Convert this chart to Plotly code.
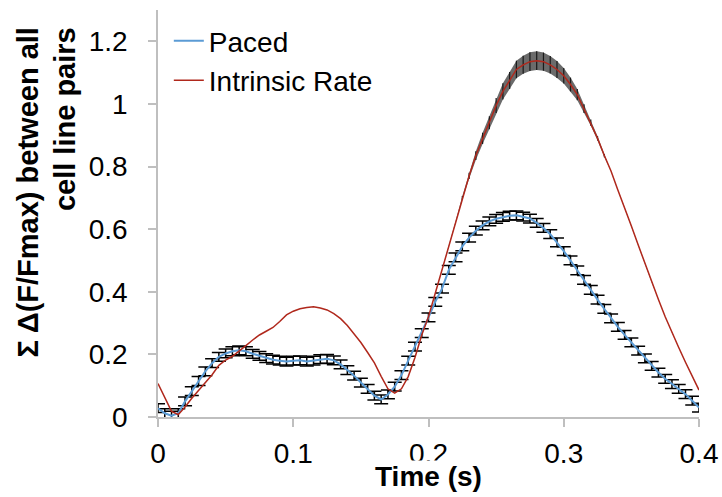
import plotly.graph_objects as go

time_s = [round(i * 0.005, 3) for i in range(81)]

paced = [0.028, 0.012, 0.004, 0.012, 0.050, 0.083, 0.115, 0.146, 0.172, 0.192,
         0.203, 0.210, 0.213, 0.210, 0.202, 0.195, 0.188, 0.183, 0.180, 0.177,
         0.180, 0.181, 0.177, 0.180, 0.185, 0.186, 0.181, 0.168, 0.150, 0.132,
         0.110, 0.090, 0.068, 0.056, 0.072, 0.097, 0.134, 0.180, 0.225, 0.268,
         0.318, 0.368, 0.410, 0.470, 0.510, 0.545, 0.573, 0.595, 0.612, 0.625,
         0.633, 0.639, 0.643, 0.644, 0.640, 0.634, 0.620, 0.604, 0.584, 0.558,
         0.530, 0.500, 0.468, 0.438, 0.406, 0.375, 0.345, 0.315, 0.288, 0.262,
         0.238, 0.212, 0.187, 0.163, 0.142, 0.122, 0.105, 0.090, 0.073, 0.052,
         0.030]

intrinsic = [0.107, 0.060, 0.018, 0.008, 0.032, 0.060, 0.085, 0.107, 0.135, 0.165,
             0.182, 0.194, 0.210, 0.228, 0.246, 0.262, 0.274, 0.286, 0.305, 0.326,
             0.338, 0.346, 0.350, 0.352, 0.348, 0.342, 0.330, 0.314, 0.292, 0.265,
             0.238, 0.206, 0.173, 0.130, 0.090, 0.076, 0.090, 0.129, 0.190, 0.262,
             0.320, 0.395, 0.470, 0.550, 0.625, 0.700, 0.770, 0.835, 0.890, 0.940,
             0.995, 1.040, 1.075, 1.110, 1.125, 1.135, 1.138, 1.135, 1.125, 1.110,
             1.090, 1.062, 1.030, 0.985, 0.940, 0.890, 0.835, 0.785, 0.725, 0.670,
             0.610, 0.550, 0.490, 0.430, 0.375, 0.320, 0.268, 0.222, 0.175, 0.128,
             0.086]

paced_err = [0.014] * 81

intrinsic_err = [0.0] * 45 + [0.006, 0.010, 0.014, 0.018, 0.021, 0.024, 0.026, 0.027,
                 0.028, 0.029, 0.030, 0.030, 0.029, 0.028, 0.027, 0.025, 0.022, 0.018,
                 0.014, 0.010, 0.007, 0.005] + [0.0] * 14

x_tick_vals = [0, 0.1, 0.2, 0.3, 0.4]
x_tick_text = ["0", "0.1", "0.2", "0.3", "0.4"]
y_tick_vals = [0, 0.2, 0.4, 0.6, 0.8, 1, 1.2]
y_tick_text = ["0", "0.2", "0.4", "0.6", "0.8", "1", "1.2"]

FONT = "Liberation Sans, Arial, sans-serif"

intr_upper = [v + e for v, e in zip(intrinsic, intrinsic_err)]
intr_lower = [v - e for v, e in zip(intrinsic, intrinsic_err)]

fig = go.Figure()
fig.add_trace(go.Scatter(
    x=time_s, y=paced, name="Paced", mode="lines",
    line=dict(color="#5B9BD5", width=2),
    error_y=dict(type="data", array=paced_err, color="#000000", thickness=1.5, width=7),
))
# shaded spread of the intrinsic-rate error bars
fig.add_trace(go.Scatter(x=time_s, y=intr_lower, mode="lines", line=dict(width=0),
                         showlegend=False, hoverinfo="skip"))
fig.add_trace(go.Scatter(x=time_s, y=intr_upper, mode="lines", line=dict(width=0),
                         fill="tonexty", fillcolor="#6b6b6b",
                         showlegend=False, hoverinfo="skip"))
fig.add_trace(go.Scatter(
    x=time_s, y=intrinsic, name="Intrinsic Rate", mode="lines",
    line=dict(color="#B0281C", width=1.5),
    error_y=dict(type="data", array=intrinsic_err, color="#1a1a1a", thickness=1.2, width=0),
))

axis_common = dict(
    showgrid=False, zeroline=False, showline=True, linecolor="#BFBFBF", linewidth=1.5,
    ticks="outside", ticklen=8, tickcolor="#BFBFBF", tickwidth=1.5, automargin=False,
    tickfont=dict(family=FONT, size=28, color="#000000"),
)
fig.update_xaxes(range=[0, 0.4], tickvals=x_tick_vals, ticktext=x_tick_text,
                 ticklabelstandoff=3, **axis_common)
fig.update_yaxes(range=[0, 1.3], tickvals=y_tick_vals, ticktext=y_tick_text,
                 ticklabelstandoff=15, **axis_common)

title_font = dict(family=FONT, size=29, color="#000000", weight="bold")
fig.add_annotation(text="Σ Δ(F/Fmax) between all", textangle=-90,
                   xref="paper", yref="paper", x=-0.2394, y=0.963,
                   xanchor="center", yanchor="top", showarrow=False, font=title_font)
fig.add_annotation(text="cell line pairs", textangle=-90,
                   xref="paper", yref="paper", x=-0.1719, y=0.963,
                   xanchor="center", yanchor="top", showarrow=False, font=title_font)
fig.add_annotation(text="Time (s)", xref="paper", yref="paper", x=0.5, y=-0.147,
                   xanchor="center", yanchor="middle", showarrow=False,
                   bgcolor="white", borderpad=0,
                   font=dict(family=FONT, size=28, color="#000000", weight="bold"))

fig.update_layout(
    width=722, height=497,
    margin=dict(l=158, r=23, t=10, b=80, autoexpand=False),
    plot_bgcolor="white", paper_bgcolor="white",
    font=dict(family=FONT, color="#000000"),
    legend=dict(x=0.02, y=0.985, xanchor="left", yanchor="top", traceorder="normal",
                font=dict(family=FONT, size=28), bgcolor="rgba(0,0,0,0)",
                tracegroupgap=0, itemwidth=30),
    showlegend=True,
)

fig.write_html("out.html", config={"displayModeBar": False},
               post_script="document.body.style.margin='0px';")
